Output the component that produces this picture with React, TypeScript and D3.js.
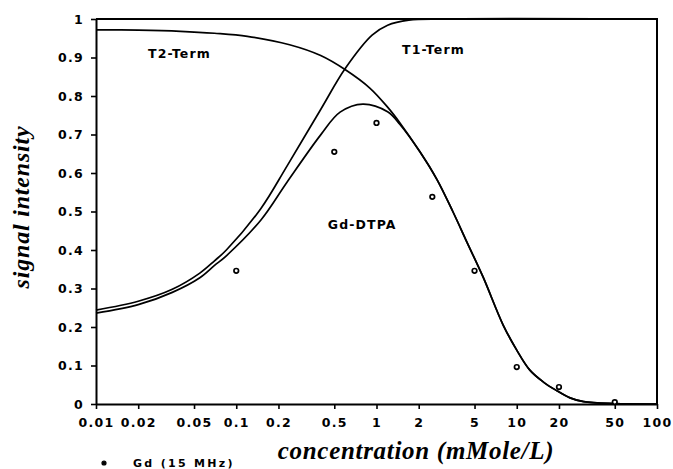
import * as d3 from 'd3';
import { useEffect, useRef } from 'react';

// x = Gd-DTPA concentration (mMole/L), y = relative signal intensity
const t2Conc = [0.01, 0.02, 0.04, 0.07, 0.12, 0.24, 0.4, 0.6, 0.9, 1.2, 1.47, 2.04, 2.7, 3.5, 4.42, 5.75, 8, 10, 12.4, 15.5, 19, 24, 30, 50, 100];
const t2Val = [0.972, 0.971, 0.968, 0.963, 0.955, 0.933, 0.905, 0.868, 0.82, 0.771, 0.73, 0.655, 0.583, 0.5, 0.42, 0.33, 0.205, 0.14, 0.088, 0.057, 0.036, 0.016, 0.006, 0.001, 0];

const t1Conc = [0.01, 0.02, 0.035, 0.055, 0.07, 0.085, 0.15, 0.23, 0.4, 0.6, 0.93, 1.2, 1.7, 3, 100];
const t1Val = [0.244, 0.267, 0.298, 0.34, 0.372, 0.4, 0.508, 0.618, 0.765, 0.872, 0.958, 0.984, 0.997, 1, 1];

const gdConc = [0.01, 0.02, 0.035, 0.055, 0.07, 0.085, 0.15, 0.23, 0.4, 0.55, 0.8, 1.2, 1.47, 2.04, 2.7, 3.5, 4.42, 5.75, 8, 10, 12.4, 15.5, 19, 24, 30, 50, 100];
const gdVal = [0.236, 0.258, 0.29, 0.328, 0.36, 0.385, 0.478, 0.576, 0.699, 0.758, 0.779, 0.759, 0.726, 0.655, 0.583, 0.5, 0.42, 0.33, 0.205, 0.14, 0.088, 0.057, 0.036, 0.016, 0.006, 0.001, 0];

const pointConc = [0.1, 0.5, 1, 2.5, 5, 10, 20, 50];
const pointVal = [0.346, 0.655, 0.73, 0.538, 0.346, 0.096, 0.044, 0.005];

const xTicks = [0.01, 0.02, 0.05, 0.1, 0.2, 0.5, 1, 2, 5, 10, 20, 50, 100];
const xTickLabels = ['0.01', '0.02', '0.05', '0.1', '0.2', '0.5', '1', '2', '5', '10', '20', '50', '100'];
const yTicks = [0, 0.1, 0.2, 0.3, 0.4, 0.5, 0.6, 0.7, 0.8, 0.9, 1];
const yTickLabels = ['0', '0.1', '0.2', '0.3', '0.4', '0.5', '0.6', '0.7', '0.8', '0.9', '1'];

const curveLabels = [
    { text: 'T2-Term', conc: 0.0235, val: 0.9 },
    { text: 'T1-Term', conc: 1.52, val: 0.91 },
    { text: 'Gd-DTPA', conc: 0.45, val: 0.455 },
];

function SignalChart() {
    const svgRef = useRef(null);

    useEffect(() => {
        const svg = d3.select(svgRef.current);
        svg.selectAll('*').remove();

        const left = 96, right = 657, top = 19, bottom = 404;

        const x = d3.scaleLog().domain([0.01, 100]).range([left, right]);
        const y = d3.scaleLinear().domain([0, 1]).range([bottom, top]);

        const tickFont = 'DejaVu Sans, Verdana, sans-serif';

        // frame top / right
        svg.append('path')
            .attr('d', `M${left},${y(1)}H${right}V${bottom}`)
            .attr('fill', 'none')
            .attr('stroke', '#000')
            .attr('stroke-width', 2);

        const xAxis = svg.append('g')
            .attr('transform', `translate(0,${bottom})`)
            .call(d3.axisBottom(x)
                .tickValues(xTicks)
                .tickFormat((d, i) => xTickLabels[i])
                .tickSize(5)
                .tickSizeOuter(0)
                .tickPadding(9));

        const yAxis = svg.append('g')
            .attr('transform', `translate(${left},0)`)
            .call(d3.axisLeft(y)
                .tickValues(yTicks)
                .tickFormat((d, i) => yTickLabels[i])
                .tickSize(5)
                .tickSizeOuter(0)
                .tickPadding(7));

        [xAxis, yAxis].forEach(ax => {
            ax.select('.domain').attr('stroke-width', 2);
            ax.selectAll('.tick line').attr('stroke-width', 1.6);
            ax.selectAll('.tick text')
                .attr('font-family', tickFont)
                .attr('font-weight', 'bold')
                .attr('font-size', 12.5)
                .attr('letter-spacing', 1.3)
                .attr('fill', '#000');
        });

        const line = d3.line()
            .x(d => x(d[0]))
            .y(d => y(d[1]))
            .curve(d3.curveCatmullRom.alpha(0.5));

        const series = [
            d3.zip(t2Conc, t2Val),
            d3.zip(t1Conc, t1Val),
            d3.zip(gdConc, gdVal),
        ];

        svg.selectAll('.curve')
            .data(series)
            .enter().append('path')
            .attr('class', 'curve')
            .attr('d', line)
            .attr('fill', 'none')
            .attr('stroke', '#000')
            .attr('stroke-width', 1.7);

        svg.selectAll('.dot')
            .data(d3.zip(pointConc, pointVal))
            .enter().append('circle')
            .attr('class', 'dot')
            .attr('cx', d => x(d[0]))
            .attr('cy', d => y(d[1]))
            .attr('r', 2.3)
            .attr('fill', '#fff')
            .attr('stroke', '#000')
            .attr('stroke-width', 1.7);

        svg.selectAll('.curve-label')
            .data(curveLabels)
            .enter().append('text')
            .attr('class', 'curve-label')
            .attr('x', d => x(d.conc))
            .attr('y', d => y(d.val))
            .attr('font-family', tickFont)
            .attr('font-weight', 'bold')
            .attr('font-size', 12.5)
            .attr('letter-spacing', 1.1)
            .text(d => d.text);

        // axis titles
        svg.append('text')
            .attr('x', 416)
            .attr('y', 459)
            .attr('text-anchor', 'middle')
            .attr('font-family', 'Liberation Serif, Times New Roman, serif')
            .attr('font-weight', 'bold')
            .attr('font-style', 'italic')
            .attr('font-size', 25)
            .attr('letter-spacing', 0.7)
            .text('concentration (mMole/L)');

        svg.append('text')
            .attr('transform', 'translate(29,207) rotate(-90)')
            .attr('text-anchor', 'middle')
            .attr('font-family', 'Liberation Serif, Times New Roman, serif')
            .attr('font-weight', 'bold')
            .attr('font-style', 'italic')
            .attr('font-size', 24)
            .attr('letter-spacing', 0.8)
            .text('signal intensity');

        // legend
        svg.append('circle')
            .attr('cx', 104)
            .attr('cy', 463)
            .attr('r', 2)
            .attr('fill', '#000')
            .attr('stroke', '#000')
            .attr('stroke-width', 1.2);

        svg.append('text')
            .attr('x', 133)
            .attr('y', 467)
            .attr('font-family', tickFont)
            .attr('font-weight', 'bold')
            .attr('font-size', 11)
            .attr('letter-spacing', 2.3)
            .text('Gd (15 MHz)');

        return () => {
            d3.select(svgRef.current).selectAll('*').remove();
        };
    }, []);

    return (
        <svg ref={svgRef} width={673} height={469}
            style={{ position: 'absolute', left: 0, top: 0, background: '#fff' }} />
    );
}

export default function App() {
    return <SignalChart />;
}
